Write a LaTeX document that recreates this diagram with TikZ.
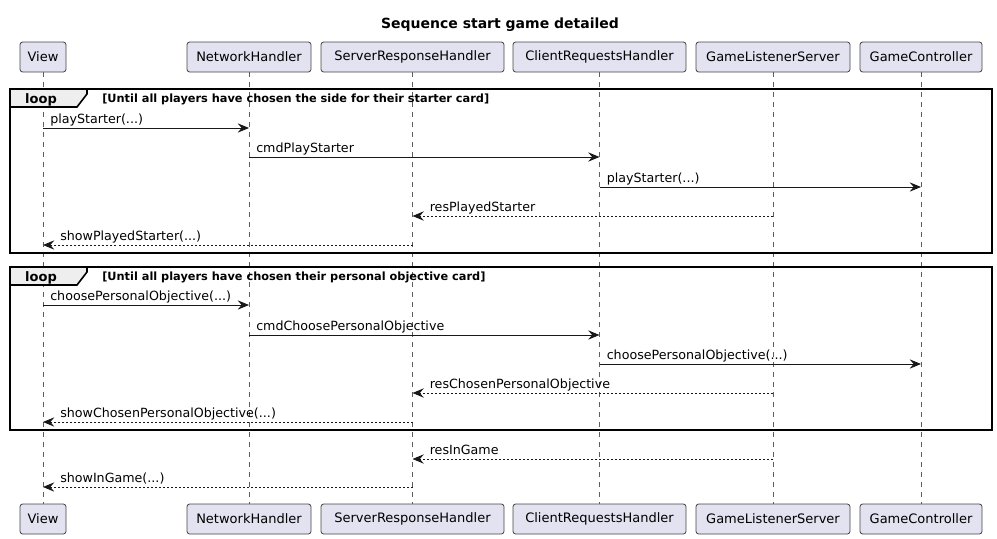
\documentclass[tikz,border=0pt]{standalone}
\usepackage{fontspec}
\setmainfont{DejaVu Sans}
\usetikzlibrary{arrows.meta}
\definecolor{pfill}{HTML}{E2E2F0}
\definecolor{tabfill}{HTML}{EEEEEE}
\definecolor{lline}{HTML}{181818}
\newcommand\fsP{\fontsize{9.75}{11.5}\selectfont}
\newcommand\fsM{\fontsize{9.5}{11.5}\selectfont}
\newcommand\fsT{\bfseries\fontsize{10.5}{12.5}\selectfont}
\newcommand\fsC{\bfseries\fontsize{8.5}{10}\selectfont}
\newcommand\fsL{\bfseries\fontsize{9.75}{11.5}\selectfont}
\tikzset{
  participant/.style={draw=lline!80, fill=pfill, rounded corners=2pt, line width=0.6pt,
    minimum height=22.5pt, inner sep=0pt, font=\fsP, text=black},
  lifeline/.style={draw=lline!70, line width=0.75pt, dash pattern=on 3.75pt off 3.75pt},
  msgsolid/.style={draw=lline, line width=0.75pt, -{Stealth[length=8.5pt,width=7pt,inset=3pt]}},
  msgdash/.style={draw=lline, line width=0.75pt, dash pattern=on 1.5pt off 1.5pt,
    -{Stealth[length=8.5pt,width=7pt,inset=3pt,sep=0pt]}},
  msglabel/.style={anchor=base west, inner sep=0pt, font=\fsM},
  frameline/.style={draw=black, line width=1.2pt},
  tab/.style={draw=black, line width=1.2pt, fill=tabfill},
}
\newcommand\msgR[4]{%
  \draw[msgsolid] (#1 |- 0,#3) -- (#2 |- 0,#3);
  \path (#1 |- 0,#3) ++(7,-5) node[msglabel] {#4};}
\newcommand\msgL[4]{%
  \draw[msgdash] (#1 |- 0,#3) -- (#2 |- 0,#3);
  \path (#2 |- 0,#3) ++(17,-5) node[msglabel] {#4};}
\newcommand\loopframe[3]{% top, bottom, condition
  \draw[frameline] (10,#1) rectangle (992,#2);
  \draw[tab] (10,#1) -- (87,#1) -- (87,#1+5) -- (77,#1+18) -- (10,#1+18) -- cycle;
  \node[anchor=base, inner sep=0pt, font=\fsL] at (41,#1+14.5) {loop};
  \node[anchor=base west, inner sep=0pt, font=\fsC] at (102,#1+13.5) {#3};}
\begin{document}
\begin{tikzpicture}[x=0.75pt,y=-0.75pt]
\useasboundingbox (0,0) rectangle (997,539);
\node[anchor=base, inner sep=0pt, font=\fsT] (title) at (500,28) {Sequence start game detailed};
% participants top
\node[participant, minimum width=34.5pt]  (view) at (43,57) {View};
\node[participant, minimum width=93pt]    (nh)   at (249,57) {NetworkHandler};
\node[participant, minimum width=137.25pt](srh)  at (412.5,57) {ServerResponseHandler};
\node[participant, minimum width=129.75pt](crh)  at (599.5,57) {ClientRequestsHandler};
\node[participant, minimum width=115.5pt] (gls)  at (773,57) {GameListenerServer};
\node[participant, minimum width=91.5pt]  (gc)   at (921,57) {GameController};
% participants bottom
\node[participant, minimum width=34.5pt]  (viewB) at (43,519) {View};
\node[participant, minimum width=93pt]    (nhB)   at (249,519) {NetworkHandler};
\node[participant, minimum width=137.25pt](srhB)  at (412.5,519) {ServerResponseHandler};
\node[participant, minimum width=129.75pt](crhB)  at (599.5,519) {ClientRequestsHandler};
\node[participant, minimum width=115.5pt] (glsB)  at (773,519) {GameListenerServer};
\node[participant, minimum width=91.5pt]  (gcB)   at (921,519) {GameController};
% lifelines
\draw[lifeline] (view) -- (viewB);
\draw[lifeline] (nh) -- (nhB);
\draw[lifeline] (srh) -- (srhB);
\draw[lifeline] (crh) -- (crhB);
\draw[lifeline] (gls) -- (glsB);
\draw[lifeline] (gc) -- (gcB);
% loop 1
\loopframe{89}{253}{[Until all players have chosen the side for their starter card]}
\msgR{view}{nh}{128}{playStarter(...)}
\msgR{nh}{crh}{157}{cmdPlayStarter}
\msgR{crh}{gc}{187}{playStarter(...)}
\msgL{gls}{srh}{216}{resPlayedStarter}
\msgL{srh}{view}{245}{showPlayedStarter(...)}
% loop 2
\loopframe{267}{430}{[Until all players have chosen their personal objective card]}
\msgR{view}{nh}{305}{choosePersonalObjective(...)}
\msgR{nh}{crh}{335}{cmdChoosePersonalObjective}
\msgR{crh}{gc}{364}{choosePersonalObjective(...)}
\msgL{gls}{srh}{393}{resChosenPersonalObjective}
\msgL{srh}{view}{422}{showChosenPersonalObjective(...)}
% after loops
\msgL{gls}{srh}{459}{resInGame}
\msgL{srh}{view}{487}{showInGame(...)}
\end{tikzpicture}
\end{document}
